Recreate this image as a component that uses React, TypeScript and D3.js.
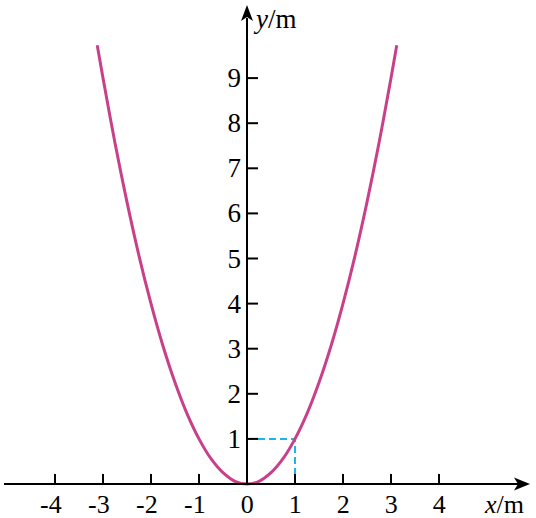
import React from "react";
import * as d3 from "d3";

const xTicks = [-4, -3, -2, -1, 0, 1, 2, 3, 4];
const yTicks = [1, 2, 3, 4, 5, 6, 7, 8, 9];
const curveX = [-3.12, -3.0, -2.75, -2.5, -2.25, -2.0, -1.75, -1.5, -1.25, -1.0, -0.75, -0.5, -0.25, 0, 0.25, 0.5, 0.75, 1.0, 1.25, 1.5, 1.75, 2.0, 2.25, 2.5, 2.75, 3.0, 3.12];
const curveY = [9.73, 9.0, 7.56, 6.25, 5.06, 4.0, 3.06, 2.25, 1.56, 1.0, 0.56, 0.25, 0.06, 0, 0.06, 0.25, 0.56, 1.0, 1.56, 2.25, 3.06, 4.0, 5.06, 6.25, 7.56, 9.0, 9.73];
const markX = [0, 1, 1];
const markY = [1, 1, 0];

export default function App() {
  const W = 536, H = 518;
  const x = d3.scaleLinear().domain([0, 1]).range([247, 295]);
  const y = d3.scaleLinear().domain([0, 1]).range([484, 438.9]);
  const pts: [number, number][] = curveX.map((v, i) => [v, curveY[i]]);
  const line = d3.line<[number, number]>().x(d => x(d[0])).y(d => y(d[1])).curve(d3.curveCatmullRom);
  const markPts: [number, number][] = markX.map((v, i) => [v, markY[i]]);
  const markLine = d3.line<[number, number]>().x(d => x(d[0])).y(d => y(d[1]));
  const ox = x(0), oy = y(0);
  const font = '"Liberation Serif", "Times New Roman", serif';
  return (
    <svg width={W} height={H} style={{ position: "absolute", left: 0, top: 0, background: "#fff", fontFamily: font }}>
      {/* dashed */}
      <path d={markLine(markPts) || ""} fill="none" stroke="#1fb4e6" strokeWidth={2} strokeDasharray="7,4" />
      {/* curve */}
      <path d={line(pts) || ""} fill="none" stroke="#c9408a" strokeWidth={3} />
      {/* axes */}
      <line x1={4} y1={oy} x2={518} y2={oy} stroke="#000" strokeWidth={2} />
      <path d={`M${530},${oy} L${514},${oy - 6.5} L${518},${oy} L${514},${oy + 6.5} Z`} fill="#000" />
      <line x1={ox} y1={oy} x2={ox} y2={18} stroke="#000" strokeWidth={2} />
      <path d={`M${ox},${5} L${ox - 6},${21} L${ox},${17} L${ox + 6},${21} Z`} fill="#000" />
      {/* x ticks */}
      {xTicks.map(t => (
        <g key={"x" + t}>
          {t !== 0 && <line x1={x(t)} y1={oy} x2={x(t)} y2={oy - 10} stroke="#000" strokeWidth={2} />}
          <text x={x(t) + 6.75} y={oy + 29} textAnchor="end" fontSize={26}>{t < 0 ? "-" + Math.abs(t) : String(t)}</text>
        </g>
      ))}
      {/* y ticks */}
      {yTicks.map(t => (
        <g key={"y" + t}>
          <line x1={ox} y1={y(t)} x2={ox + 11} y2={y(t)} stroke="#000" strokeWidth={2} />
          <text x={ox - 6} y={y(t) + 9} textAnchor="end" fontSize={27}>{String(t)}</text>
        </g>
      ))}
      {/* axis labels */}
      <text x={ox + 9} y={28} fontSize={27}><tspan fontStyle="italic">y</tspan>/m</text>
      <text x={485} y={513} fontSize={26}><tspan fontStyle="italic">x</tspan>/m</text>
    </svg>
  );
}
